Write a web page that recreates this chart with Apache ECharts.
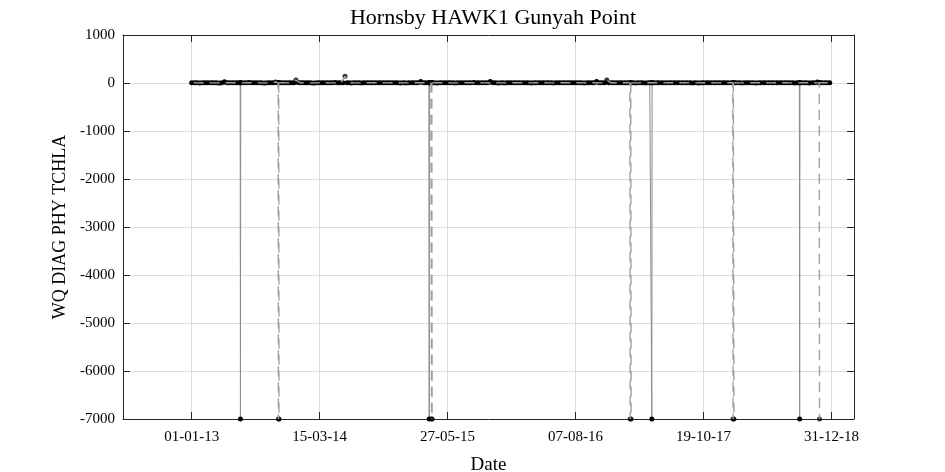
<!DOCTYPE html>
<html><head><meta charset="utf-8">
<script src="https://cdn.jsdelivr.net/npm/echarts@6/dist/echarts.min.js"></script>
<style>html,body{margin:0;padding:0;background:#fff}#c{width:945px;height:472px}</style>
</head><body><div id="c"></div>
<script>
// ---- data ----
const chartTitle = 'Hornsby HAWK1 Gunyah Point';
const xAxisName = 'Date';
const yAxisName = 'WQ DIAG PHY TCHLA';
const originDate = '2013-01-01';
const xLimitDates = ['2012-05-11', '2019-03-18'];
const xTickDates = ['2013-01-01', '2014-03-15', '2015-05-27', '2016-08-07', '2017-10-19', '2018-12-31'];
const yTickValues = [-7000, -6000, -5000, -4000, -3000, -2000, -1000, 0, 1000];

// series 1 (solid line): fortnightly samples
const solidStartDate = '2013-01-01';
const solidStepDays = 14;
const solidValues = [
  3,4,2,5,6,4,3,2,25,5,7,4,3,6,8,5,4,3,2,4,
  5,6,4,3,5,7,9,6,4,3,2,3,4,5,6,8,5,4,3,2,
  3,4,6,5,4,3,5,7,6,4,3,2,3,4,5,6,30,5,4,3,
  2,3,4,6,5,4,3,5,6,8,7,5,4,30,3,2,3,4,5,6,
  5,4,3,2,4,5,7,6,5,4,3,4,5,6,4,3,2,3,5,30,
  6,5,4,3,4,5,6,7,5,4,3,2,3,4,6,5,4,3,4,5,
  6,5,4,3,2,3,4,5,7,6,5,4,3,4,5,6,4,3,2,3,
  4,5,6,5,4,3,4,5,6,4,3,2,3,20,5,4,3
];
// daily readings around the dropouts of series 1
const solidDropDates = [
  '2013-06-16','2013-06-17','2013-06-18',
  '2015-03-24','2015-03-25','2015-03-26',
  '2017-04-24','2017-04-25','2017-04-26',
  '2018-09-12','2018-09-13','2018-09-14'
];
const solidDropValues = [
  4,-7000,5,
  3,-7000,4,
  5,-7000,4,
  3,-7000,5
];

// series 2 (dashed line): fortnightly samples
const dashedStartDate = '2013-01-08';
const dashedStepDays = 14;
const dashedValues = [
  4,3,5,6,4,3,2,4,5,6,5,4,3,5,7,4,3,2,3,4,
  20,5,4,3,4,60,5,4,3,2,3,5,6,4,3,4,5,140,6,4,
  3,2,4,5,6,5,4,3,4,6,5,3,2,3,4,5,6,4,3,4,
  5,6,4,3,2,3,5,6,7,5,4,3,4,5,4,3,2,4,5,6,
  5,4,3,4,6,5,4,3,2,3,4,5,6,5,4,3,4,5,6,4,
  3,60,4,5,6,5,4,3,2,3,4,5,7,6,4,3,4,5,6,5,
  4,3,2,3,5,6,5,4,3,4,5,6,4,3,2,3,4,5,6,5,
  4,3,4,5,6,4,3,2,3,4,5,6,4,3,4,5
];
// daily readings around the dropouts of series 2
const dashedDropDates = [
  '2013-10-24','2013-10-25','2013-10-26','2013-10-27','2013-10-28',
  '2015-04-01','2015-04-02','2015-04-03','2015-04-04','2015-04-05',
  '2017-02-09','2017-02-10','2017-02-12','2017-02-13','2017-02-14',
  '2018-01-27','2018-01-28','2018-01-29','2018-01-31','2018-02-01',
  '2018-11-19','2018-11-20','2018-11-21'
];
const dashedDropValues = [
  4,-7000,3,-7000,5,
  5,-7000,4,-7000,3,
  3,-7000,4,-7000,5,
  4,-7000,3,-7000,4,
  3,-7000,4
];
const dropLevel = -7000;

// ---- helpers ----
const DAY = 86400000;
const ORIGIN = Date.parse(originDate + 'T00:00:00Z');
function toDay(s) {
  const p = s.split('-').map(Number);
  return (Date.UTC(p[0], p[1] - 1, p[2]) - ORIGIN) / DAY;
}
function fmt(v) {
  const d = new Date(ORIGIN + Math.round(v) * DAY);
  const dd = String(d.getUTCDate()).padStart(2, '0');
  const mm = String(d.getUTCMonth() + 1).padStart(2, '0');
  const yy = String(d.getUTCFullYear() % 100).padStart(2, '0');
  return dd + '-' + mm + '-' + yy;
}
function build(startDate, step, values, dropDates, dropValues, breakAfterDrop) {
  const s = toDay(startDate);
  const pts = values.map((v, i) => [s + i * step, v]);
  dropDates.forEach((d, i) => pts.push([toDay(d), dropValues[i]]));
  pts.sort((a, b) => a[0] - b[0]);
  if (!breakAfterDrop) return pts;
  const out = [];
  pts.forEach(p => {
    out.push(p);
    if (p[1] <= dropLevel) out.push([p[0] + 0.3, '-']);
  });
  return out;
}
const solidData = build(solidStartDate, solidStepDays, solidValues, solidDropDates, solidDropValues, false);
const dashedData = build(dashedStartDate, dashedStepDays, dashedValues, dashedDropDates, dashedDropValues, true);
const xTicks = xTickDates.map(toDay);
const xMin = toDay(xLimitDates[0]), xMax = toDay(xLimitDates[1]);

const FONT = 'Liberation Serif';
const AX = '#262626';
const chart = echarts.init(document.getElementById('c'), null, {renderer: 'canvas'});
const xCommon = {
  type: 'value', min: xMin, max: xMax,
  axisLine: {onZero: false, lineStyle: {color: AX, width: 1}},
  axisTick: {inside: true, length: 7, customValues: xTicks, lineStyle: {color: AX}},
};
const yCommon = {
  type: 'value', min: yTickValues[0], max: yTickValues[yTickValues.length - 1], interval: 1000,
  axisLine: {show: true, onZero: false, lineStyle: {color: AX, width: 1}},
  axisTick: {show: true, inside: true, length: 7, lineStyle: {color: AX}},
};
chart.setOption({
  animation: false,
  backgroundColor: '#fff',
  title: {
    text: chartTitle, left: 488, top: 2, textAlign: 'center',
    textStyle: {fontFamily: FONT, fontSize: 22, fontWeight: 'normal', color: '#000'}
  },
  grid: {left: 123, right: 91, top: 35, bottom: 53, containLabel: false, outerBoundsMode: 'none'},
  xAxis: [
    Object.assign({}, xCommon, {
      position: 'bottom',
      name: xAxisName, nameLocation: 'middle', nameGap: 37,
      nameTextStyle: {fontFamily: FONT, fontSize: 19, color: '#000'},
      axisLabel: {customValues: xTicks, formatter: fmt, fontFamily: FONT, fontSize: 15, color: '#000', margin: 11},
      splitLine: {show: true, lineStyle: {color: '#dcdcdc', width: 1}}
    }),
    Object.assign({}, xCommon, {
      position: 'top',
      axisLabel: {show: false},
      splitLine: {show: false}
    })
  ],
  yAxis: [
    Object.assign({}, yCommon, {
      position: 'left',
      name: yAxisName, nameLocation: 'middle', nameGap: 47,
      nameTextStyle: {fontFamily: FONT, fontSize: 18, color: '#000'},
      axisLabel: {fontFamily: FONT, fontSize: 15, color: '#000', margin: 8, formatter: v => String(v)},
      splitLine: {show: true, lineStyle: {color: '#dcdcdc', width: 1}}
    }),
    Object.assign({}, yCommon, {
      position: 'right',
      axisLabel: {show: false},
      splitLine: {show: false}
    })
  ],
  series: [
    {
      name: 'solid', type: 'line', data: solidData, z: 2,
      symbol: 'circle', symbolSize: 5, showAllSymbol: true,
      itemStyle: {color: '#000', borderWidth: 0},
      lineStyle: {color: '#8c8c8c', width: 1},
      clip: false
    },
    {
      name: 'dashedMarkers', type: 'scatter', data: dashedData, z: 3,
      symbol: 'circle', symbolSize: 5,
      itemStyle: {color: '#000', borderWidth: 0}
    },
    {
      name: 'dashed', type: 'line', data: dashedData, z: 4,
      showSymbol: false, symbol: 'none', connectNulls: false,
      lineStyle: {color: '#a0a0a0', width: 1.4, type: [10, 6]}
    }
  ]
});
</script>
</body></html>
